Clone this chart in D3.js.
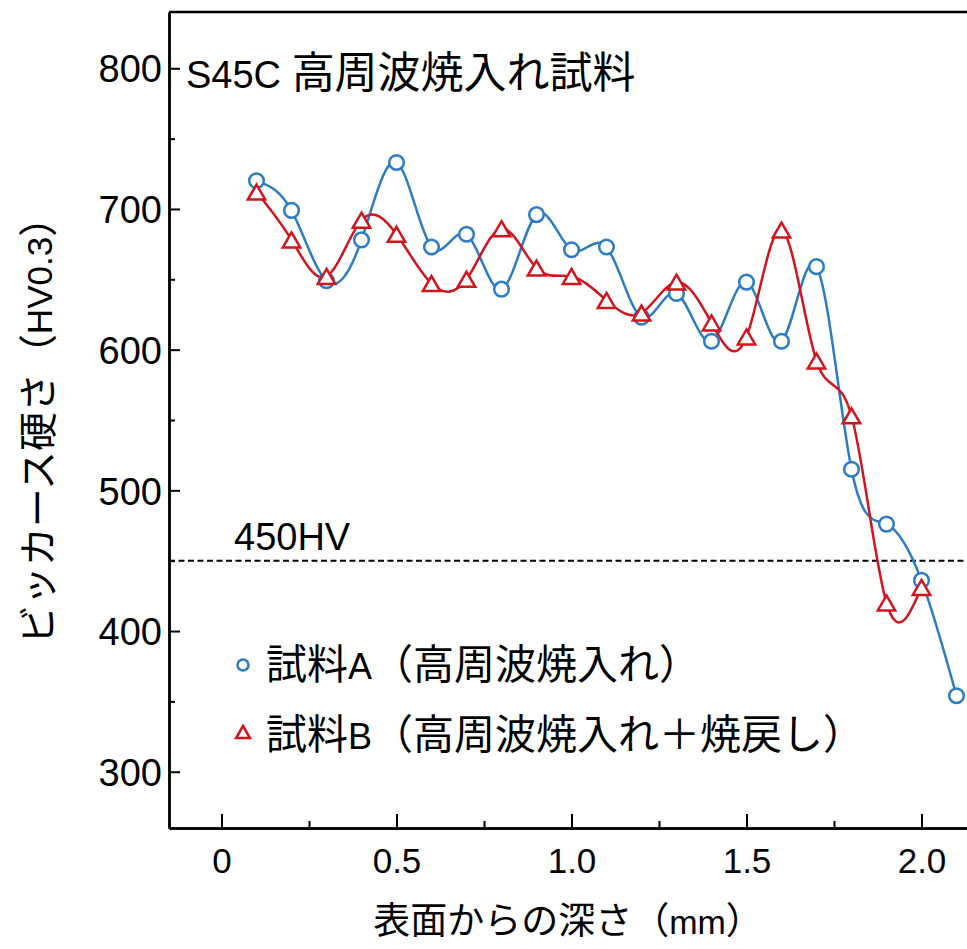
<!DOCTYPE html>
<html><head><meta charset="utf-8">
<script src="https://cdn.jsdelivr.net/npm/d3@7"></script>
<style>body{margin:0;background:#fff}</style>
</head><body>
<svg id="chart" width="967" height="949"></svg>
<script>
// ---- data ----
const depth = [0.1,0.2,0.3,0.4,0.5,0.6,0.7,0.8,0.9,1.0,1.1,1.2,1.3,1.4,1.5,1.6,1.7,1.8,1.9,2.0,2.1];
const hvA = [720,699,649,678,733,673,682,643,696,671,673,623,640,606,648,606,659,515,476,436,354];
const hvB = [712,678,652,692,682,647,650,686,658,652,635,626,648,619,609,685,592,553,420,431];
const yMajor = [300,400,500,600,700,800];
const yMinor = [350,450,550,650,750];
const xMajor = [0,0.5,1.0,1.5,2.0];
const xMajorLabels = ["0","0.5","1.0","1.5","2.0"];
const xMinor = [0.25,0.75,1.25,1.75];
const threshold = 450;
const titleText = "S45C 高周波焼入れ試料";
const thresholdLabel = "450HV";
const legendA = "試料A（高周波焼入れ）";
const legendB = "試料B（高周波焼入れ＋焼戻し）";
const xTitle = "表面からの深さ（mm）";
const yTitle = "ビッカース硬さ（HV0.3）";

const blue = "#2a7cc6", red = "#d2141c";
const svg = d3.select("#chart");
const L = 169, R = 967, T = 12, B = 828;
const x = d3.scaleLinear().domain([-0.15, 2.13]).range([L, R]);
const y = d3.scaleLinear().domain([260, 840]).range([B, T]);

const LAT = "'Liberation Sans', Arial, sans-serif";
const CJK = "'Noto Sans CJK JP', sans-serif";
function mixed(sel, str, cjkSize, latSize) {
  const runs = str.match(/[\u3000-\u9fff\uff00-\uffef]+|[^\u3000-\u9fff\uff00-\uffef]+/g);
  runs.forEach(r => {
    const isC = /[\u3000-\u9fff\uff00-\uffef]/.test(r);
    sel.append("tspan").text(r)
      .attr("font-family", isC ? CJK : LAT)
      .attr("font-size", isC ? cjkSize : latSize);
  });
  return sel;
}

// axes
const yAx = svg.append("g").attr("transform", `translate(${L},0)`)
  .call(d3.axisLeft(y).tickValues(yMajor).tickSize(-11).tickSizeOuter(0).tickPadding(7));
const yMin = svg.append("g").attr("transform", `translate(${L},0)`)
  .call(d3.axisLeft(y).tickValues(yMinor).tickSize(-6).tickSizeOuter(0).tickFormat(""));
const xAx = svg.append("g").attr("transform", `translate(0,${B})`)
  .call(d3.axisBottom(x).tickValues(xMajor).tickSize(-14).tickSizeOuter(0).tickPadding(20)
    .tickFormat((d,i) => xMajorLabels[i]));
const xMin = svg.append("g").attr("transform", `translate(0,${B})`)
  .call(d3.axisBottom(x).tickValues(xMinor).tickSize(-7).tickSizeOuter(0).tickFormat(""));
[yAx,yMin,xAx,xMin].forEach(g => {
  g.select(".domain").attr("stroke","#000").attr("stroke-width",2.5);
  g.selectAll(".tick line").attr("stroke","#000").attr("stroke-width",2);
  g.selectAll(".tick text").attr("fill","#000").attr("font-family",LAT);
});
yAx.selectAll(".tick text").attr("font-size",38).attr("dy","0.36em");
xAx.selectAll(".tick text").attr("font-size",35).attr("dy","0.72em");
// top border
svg.append("line").attr("x1",L).attr("x2",R).attr("y1",y(840)).attr("y2",y(840))
  .attr("stroke","#000").attr("stroke-width",2.5);

// threshold
svg.append("line").attr("x1",L).attr("x2",R).attr("y1",y(threshold)).attr("y2",y(threshold))
  .attr("stroke","#000").attr("stroke-width",2).attr("stroke-dasharray","6,3.5");
svg.append("text").attr("x",234).attr("y",y(threshold)-11)
  .attr("font-family",LAT).attr("font-size",38).text(thresholdLabel);

// series
const line = d3.line().x((d,i)=>x(depth[i])).y(d=>y(d)).curve(d3.curveNatural);
svg.append("path").datum(hvA).attr("d",line).attr("fill","none").attr("stroke",blue).attr("stroke-width",2.5);
svg.append("path").datum(hvB).attr("d",line).attr("fill","none").attr("stroke",red).attr("stroke-width",2.5);
svg.append("g").selectAll("circle").data(hvA).join("circle")
  .attr("cx",(d,i)=>x(depth[i])).attr("cy",d=>y(d)).attr("r",7.3)
  .attr("fill","#fff").attr("stroke",blue).attr("stroke-width",2.5);
const tri = (s) => `M0,${-s*0.5}L${s*0.58},${s*0.5}L${-s*0.58},${s*0.5}Z`;
svg.append("g").selectAll("path").data(hvB).join("path")
  .attr("transform",(d,i)=>`translate(${x(depth[i])},${y(d)})`).attr("d",tri(15))
  .attr("fill","#fff").attr("stroke",red).attr("stroke-width",2.5);

// title
mixed(svg.append("text").attr("x",186).attr("y",88), titleText, 43, 38);

// legend
svg.append("circle").attr("cx",243).attr("cy",665).attr("r",5.5).attr("fill","#fff").attr("stroke",blue).attr("stroke-width",2.5);
svg.append("path").attr("transform","translate(243,732)").attr("d",tri(12)).attr("fill","#fff").attr("stroke",red).attr("stroke-width",2.5);
mixed(svg.append("text").attr("x",266).attr("y",679), legendA, 41, 36);
mixed(svg.append("text").attr("x",266).attr("y",749), legendB, 41, 36);

// axis titles
mixed(svg.append("text").attr("x",568).attr("y",934).attr("text-anchor","middle"), xTitle, 37, 34);
mixed(svg.append("text").attr("transform","translate(52,421) rotate(-90)").attr("text-anchor","middle"), yTitle, 39, 35);
</script>
</body></html>
